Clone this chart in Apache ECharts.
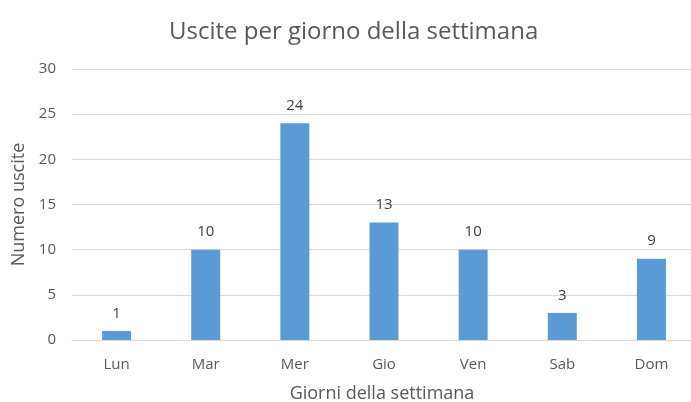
<!DOCTYPE html>
<html>
<head>
<meta charset="utf-8">
<script src="https://cdn.jsdelivr.net/npm/echarts@6/dist/echarts.min.js"></script>
<style>
  html, body { margin: 0; padding: 0; background: #fff; }
  #chart { width: 691px; height: 402px; }
</style>
</head>
<body>
<div id="chart"></div>
<script>
// Weekly exits data
const giorni = ['Lun', 'Mar', 'Mer', 'Gio', 'Ven', 'Sab', 'Dom'];
const uscite = [1, 10, 24, 13, 10, 3, 9];
const yTicks = { min: 0, max: 30, interval: 5 };

const FONT = '"Open Sans", "Noto Sans", sans-serif';
const TEXT = '#595959';

const chart = echarts.init(document.getElementById('chart'), null, { renderer: 'canvas' });
chart.setOption({
  animation: false,
  backgroundColor: '#ffffff',
  title: {
    text: 'Uscite per giorno della settimana',
    left: 164,
    top: 15,
    textStyle: { fontFamily: FONT, fontSize: 24, fontWeight: 'normal', color: TEXT }
  },
  grid: { left: 72, right: -5, top: 69, bottom: 62, containLabel: false, outerBoundsMode: 'none' },
  xAxis: {
    type: 'category',
    data: giorni,
    name: 'Giorni della settimana',
    nameLocation: 'middle',
    nameGap: 45,
    nameTextStyle: { fontFamily: FONT, fontSize: 18, color: TEXT, padding: [0, 0, 0, -4] },
    axisLine: { lineStyle: { color: '#d9d9d9' } },
    axisTick: { show: false },
    axisLabel: { fontFamily: FONT, fontSize: 15, color: TEXT, margin: 17 }
  },
  yAxis: {
    type: 'value',
    min: yTicks.min,
    max: yTicks.max,
    interval: yTicks.interval,
    name: 'Numero uscite',
    nameLocation: 'middle',
    nameGap: 44,
    nameTextStyle: { fontFamily: FONT, fontSize: 18, color: TEXT },
    axisLine: { show: false },
    axisTick: { show: false },
    axisLabel: { fontFamily: FONT, fontSize: 15, color: TEXT, margin: 16 },
    splitLine: { lineStyle: { color: '#d9d9d9' } }
  },
  series: [{
    type: 'bar',
    data: uscite,
    barWidth: 29,
    itemStyle: { color: '#5b9bd5' },
    label: {
      show: true,
      position: 'top',
      distance: 10,
      fontFamily: FONT,
      fontSize: 15,
      color: '#404040'
    }
  }]
});
</script>
</body>
</html>
